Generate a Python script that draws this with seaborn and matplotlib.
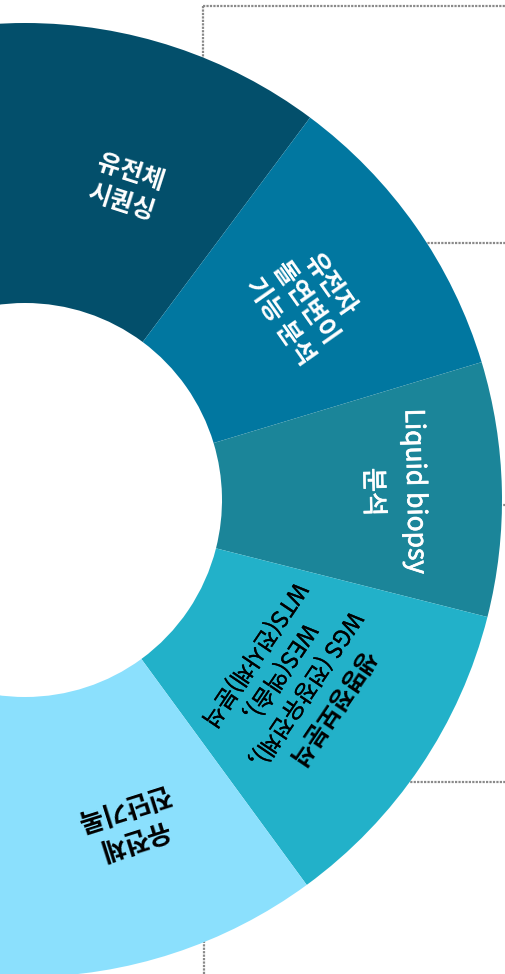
import numpy as np
import pandas as pd
import seaborn as sns
import matplotlib.pyplot as plt
import matplotlib.patheffects as pe

# ---- data ----
categories = ["유전체 시퀀싱", "유전자 돌연변이 기능 분석", "Liquid biopsy 분석",
              "생명정보분석", "유전체 진단기록"]
label_lines = [["유전체", "시퀀싱"],
               ["유전자", "돌연변이", "기능 분석"],
               ["Liquid biopsy", "분석"],
               ["생명정보분석", "WGS (전장유전체),", "WES(엑솜),", "WTS(전사체)분석"],
               ["유전체", "진단기록"]]
span_deg = [73.4, 36.5, 31.0, 39.6, 72.2]   # angular share of each ring segment
start_deg = 126.7

# ---- styles ----
colors = ["#034f6b", "#0177a0", "#1b8599", "#22b1c9", "#8be0fd"]
text_colors = ["white", "white", "white", "black", "black"]
line_weights = [["bold", "bold"], ["bold", "bold", "bold"], ["normal", "normal"],
                ["bold", "normal", "normal", "normal"], ["bold", "bold"]]
line_stroke = [[0, 0], [0, 0, 0], [0.5, 0.5], [0, 0.25, 0.25, 0.25], [0, 0]]
font_sizes = [[18, 18], [18.5, 18.5, 18.5], [19, 19], [17.5, 16.5, 16.5, 16.5], [19, 19]]
label_r = [328, 342, 369, 323, 339]
line_gap = [31, 31, 42, 31, 34]

sns.set_theme(style="white")
plt.rcParams['font.family'] = ['Noto Sans CJK KR', 'DejaVu Sans']

W, H = 506, 974
fig = plt.figure(figsize=(W / 100, H / 100), dpi=100)
ax = fig.add_axes([0, 0, 1, 1])

cx, cy = 25, H - 500
R, ring = 477, 280

df = pd.DataFrame({"category": categories, "span": span_deg})
pal = sns.color_palette(colors)
wedges, _ = ax.pie(df["span"] / 360.0, normalize=False, colors=pal,
                   startangle=start_deg, counterclock=False, radius=R,
                   center=(cx, cy),
                   wedgeprops=dict(width=ring, linewidth=0, antialiased=True))
for wdg in wedges:
    wdg.set_zorder(2)

ax.set_xlim(0, W)
ax.set_ylim(0, H)
ax.set_aspect('equal')
ax.axis('off')

# dotted connector lines (behind the ring)
dot = dict(color="#8a8a8a", lw=1.6, linestyle=(0, (1, 0.55)), zorder=1,
           solid_capstyle='butt', dash_capstyle='butt')
ax.plot([203, W], [H - 6, H - 6], **dot)
ax.plot([203, 203], [H - 6, H - 150], **dot)
ax.plot([300, W], [H - 243, H - 243], **dot)
ax.plot([300, W], [H - 505, H - 505], **dot)
ax.plot([300, W], [H - 782, H - 782], **dot)
ax.plot([204, 204], [0, 100], **dot)

# labels
for i, wdg in enumerate(wedges):
    t1, t2 = wdg.theta1, wdg.theta2
    a = np.deg2rad(0.5 * (max(t1, -91) + min(t2, 91)))
    rot = np.rad2deg(a) - 90
    lines = label_lines[i]
    n = len(lines)
    for j, s in enumerate(lines):
        r = label_r[i] + ((n - 1) / 2 - j) * line_gap[i]
        x = cx + r * np.cos(a)
        y = cy + r * np.sin(a)
        t = ax.text(x, y, s, rotation=rot, rotation_mode='anchor',
                    ha='center', va='center', color=text_colors[i],
                    fontsize=font_sizes[i][j], fontweight=line_weights[i][j],
                    zorder=3)
        if line_stroke[i][j] > 0:
            t.set_path_effects([pe.withStroke(linewidth=line_stroke[i][j],
                                              foreground=text_colors[i])])

fig.savefig("out.png", dpi=100)
